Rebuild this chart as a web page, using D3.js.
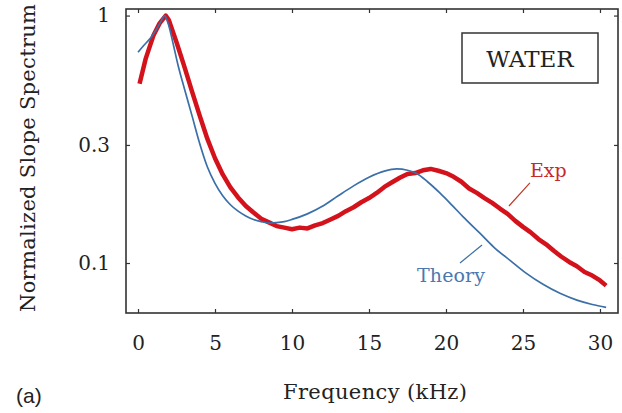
<!DOCTYPE html>
<html>
<head>
<meta charset="utf-8">
<script src="https://cdn.jsdelivr.net/npm/d3@7"></script>
<style>
  body { margin: 0; background: #fff; }
  svg { display: block; }
  .axis text { font-family: "DejaVu Serif", serif; font-size: 20px; fill: #222; }
  .axis line { stroke: #333; stroke-width: 1.2; }
  .axis path { display: none; }
</style>
</head>
<body>
<svg width="622" height="413"></svg>
<script>
'use strict';

// theory curve (kHz, normalized value)
var theoryFreq = [0, 0.4, 0.8, 1.2, 1.5, 1.72, 2.0, 2.3, 2.6, 3.0, 3.5, 4.0, 4.5, 5.0, 5.5, 6.0, 6.5, 7.0, 7.5, 8.0, 8.5, 9.0, 9.5, 10, 11, 12, 13, 14, 15, 16, 16.8, 17.5, 18.1, 18.8, 19.6, 20.4, 21.1, 22.2, 23.1, 24.2, 25.2, 26.3, 27.4, 28.5, 29.5, 30.4];
var theoryVal = [0.711, 0.76, 0.81, 0.88, 0.95, 1.0, 0.91, 0.76, 0.63, 0.51, 0.395, 0.305, 0.245, 0.210, 0.187, 0.172, 0.162, 0.155, 0.150, 0.147, 0.145, 0.1455, 0.147, 0.150, 0.158, 0.170, 0.187, 0.205, 0.222, 0.235, 0.240, 0.237, 0.230, 0.213, 0.192, 0.171, 0.154, 0.132, 0.116, 0.102, 0.091, 0.082, 0.0754, 0.0708, 0.068, 0.0662];

// measured spectrum
var expFreq = [0.1, 0.5, 1.0, 1.4, 1.8, 2.0, 2.5, 3.0, 3.5, 4.0, 4.5, 5.0, 5.5, 6.0, 6.5, 7.0, 7.5, 8.0, 8.5, 9.0, 9.5, 10.0, 10.5, 11.0, 11.5, 12.0, 12.5, 13.0, 13.5, 14.0, 14.5, 15.0, 15.5, 16.0, 16.5, 17.0, 17.5, 18.0, 18.5, 19.0, 19.5, 20.0, 20.5, 21.0, 21.5, 22.0, 22.5, 23.0, 23.5, 24.0, 24.5, 25.0, 25.5, 26.0, 26.5, 27.0, 27.5, 28.0, 28.5, 29.0, 29.5, 30.0, 30.4];
var expVal = [0.53, 0.67, 0.83, 0.93, 1.0, 0.96, 0.78, 0.625, 0.495, 0.395, 0.318, 0.265, 0.228, 0.202, 0.184, 0.170, 0.160, 0.151, 0.146, 0.141, 0.139, 0.137, 0.139, 0.138, 0.142, 0.145, 0.150, 0.155, 0.162, 0.168, 0.176, 0.183, 0.192, 0.203, 0.212, 0.221, 0.229, 0.231, 0.237, 0.240, 0.236, 0.231, 0.223, 0.213, 0.200, 0.192, 0.183, 0.175, 0.166, 0.158, 0.148, 0.140, 0.133, 0.125, 0.119, 0.112, 0.106, 0.101, 0.097, 0.092, 0.089, 0.085, 0.081];

var xTicks = [0, 5, 10, 15, 20, 25, 30];
var yTicks = [0.1, 0.3, 1];
var yTickLabels = ["0.1", "0.3", "1"];

var margin = {top: 9, right: 4, bottom: 100, left: 126};

var svg1 = d3.select("svg"),
    width = +svg1.attr("width") - margin.left - margin.right,
    height = +svg1.attr("height") - margin.top - margin.bottom;

var svg = svg1.append("g")
    .attr("transform", "translate(" + margin.left + "," + margin.top + ")");

var x = d3.scaleLinear().domain([-0.78, 31.17]).range([0, width]),
    y = d3.scaleLog().domain([0.0628, 1.063]).range([height, 0]);

var blue = "#3b6fa8", red = "#d3121c";

// axes, ticks pointing inward on all four sides
svg.append("g")
    .attr("class", "x axis")
    .attr("transform", "translate(0," + height + ")")
    .call(d3.axisBottom(x).tickValues(xTicks).tickSize(-4).tickPadding(23).tickFormat(d3.format("d")));

svg.append("g")
    .attr("class", "axis")
    .call(d3.axisTop(x).tickValues(xTicks).tickSize(-4).tickFormat(""));

svg.append("g")
    .attr("class", "y axis")
    .call(d3.axisLeft(y).tickValues(yTicks).tickSize(-4).tickPadding(16)
      .tickFormat(function(d, i) { return yTickLabels[i]; }));

svg.append("g")
    .attr("class", "axis")
    .attr("transform", "translate(" + width + ",0)")
    .call(d3.axisRight(y).tickValues(yTicks).tickSize(-4).tickFormat(""));

svg.append("rect")
    .attr("width", width)
    .attr("height", height)
    .attr("fill", "none")
    .attr("stroke", "#333")
    .attr("stroke-width", 1.6);

var line = d3.line()
    .x(function(d) { return x(d[0]); })
    .y(function(d) { return y(d[1]); });

var expData = expFreq.map(function(f, i) { return [f, expVal[i]]; });
var theoryData = theoryFreq.map(function(f, i) { return [f, theoryVal[i]]; });

svg.append("path")
    .datum(expData)
    .attr("fill", "none")
    .attr("stroke", red)
    .attr("stroke-width", 4.5)
    .attr("stroke-linejoin", "round")
    .attr("d", line.curve(d3.curveLinear));

svg.append("path")
    .datum(theoryData)
    .attr("fill", "none")
    .attr("stroke", blue)
    .attr("stroke-width", 1.7)
    .attr("d", line.curve(d3.curveMonotoneX));

// annotations
svg.append("line")
    .attr("x1", x(24.09)).attr("y1", y(0.170))
    .attr("x2", x(25.45)).attr("y2", y(0.2106))
    .attr("stroke", "#c0392b").attr("stroke-width", 1.2);
svg.append("text")
    .attr("x", x(25.45)).attr("y", y(0.2227))
    .attr("font-family", "DejaVu Serif, serif").attr("font-size", 19)
    .attr("fill", "#c8282a")
    .text("Exp");

svg.append("line")
    .attr("x1", x(20.91)).attr("y1", y(0.1))
    .attr("x2", x(22.34)).attr("y2", y(0.1183))
    .attr("stroke", blue).attr("stroke-width", 1.2);
svg.append("text")
    .attr("x", x(18.12)).attr("y", y(0.0838))
    .attr("font-family", "DejaVu Serif, serif").attr("font-size", 19)
    .attr("textLength", 68)
    .attr("fill", "#4a78b0")
    .text("Theory");

// WATER box
var box = svg.append("g").attr("transform", "translate(" + (462 - margin.left) + "," + (33 - margin.top) + ")");
box.append("rect")
    .attr("width", 136).attr("height", 50)
    .attr("fill", "#fff").attr("stroke", "#333").attr("stroke-width", 1.5);
box.append("text")
    .attr("x", 68).attr("y", 34)
    .attr("text-anchor", "middle")
    .attr("font-family", "DejaVu Serif, serif").attr("font-size", 23)
    .attr("fill", "#222")
    .text("WATER");

// axis titles
svg1.append("text")
    .attr("x", 375).attr("y", 399)
    .attr("text-anchor", "middle")
    .attr("font-family", "DejaVu Serif, serif").attr("font-size", 21)
    .attr("textLength", 184)
    .attr("fill", "#222")
    .text("Frequency (kHz)");

svg1.append("text")
    .attr("transform", "translate(35,158) rotate(-90)")
    .attr("text-anchor", "middle")
    .attr("font-family", "DejaVu Serif, serif").attr("font-size", 21)
    .attr("textLength", 308)
    .attr("fill", "#222")
    .text("Normalized Slope Spectrum");

svg1.append("text")
    .attr("x", 16).attr("y", 403)
    .attr("font-family", "Liberation Sans, Arial, sans-serif").attr("font-size", 21)
    .attr("fill", "#222")
    .text("(a)");
</script>
</body>
</html>
